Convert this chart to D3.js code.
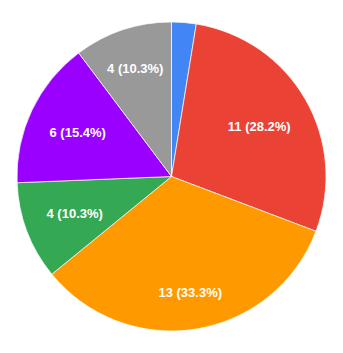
<!DOCTYPE html>
<html>
<head>
<meta charset="utf-8">
<script src="https://cdn.jsdelivr.net/npm/d3@7"></script>
<style>
  body { margin: 0; background: #fff; }
  svg { display: block; }
</style>
</head>
<body>
<div id="chart"></div>
<script>
const categories = ["A", "B", "C", "D", "E", "F"];
const values = [1, 11, 13, 4, 6, 4];
const colors = ["#4285f4", "#ea4335", "#ff9900", "#34a853", "#9900ff", "#999999"];

const width = 343;
const height = 353;
const cx = 171.5;
const cy = 176.5;
const radius = 154.5;
const fontSize = 13;

const total = d3.sum(values);
const data = categories.map((c, i) => ({ name: c, value: values[i], color: colors[i] }));

const svg = d3.select("#chart")
  .append("svg")
  .attr("width", width)
  .attr("height", height);

const pie = d3.pie()
  .sort(null)
  .value(d => d.value);

const arc = d3.arc()
  .innerRadius(0)
  .outerRadius(radius);

const g = svg.append("g")
  .attr("transform", `translate(${cx},${cy})`);

const arcs = pie(data);

g.selectAll("path")
  .data(arcs)
  .enter()
  .append("path")
  .attr("d", arc)
  .attr("fill", d => d.data.color)
  .attr("stroke", "#fff")
  .attr("stroke-width", 0.7);

// labels - small slices get none, like the original
const labels = g.selectAll("text")
  .data(arcs.filter(d => d.data.value / total > 0.05))
  .enter()
  .append("text")
  .attr("text-anchor", "middle")
  .attr("dy", "0.36em")
  .style("font-family", "Arial, 'Liberation Sans', sans-serif")
  .style("font-weight", "bold")
  .style("font-size", fontSize + "px")
  .attr("fill", "#fff")
  .text(d => `${d.data.value} (${d3.format(".1f")(d.data.value / total * 100)}%)`);

// push each label box out along the mid angle until its far corner reaches r0
const r0 = radius * 0.857;
labels.attr("transform", function (d) {
  const mid = (d.startAngle + d.endAngle) / 2;
  const a = Math.abs(Math.sin(mid));
  const b = Math.abs(Math.cos(mid));
  const hw = this.getComputedTextLength() / 2;
  const hh = 7;
  const p = a * hw + b * hh;
  const dist = -p + Math.sqrt(p * p - (hw * hw + hh * hh - r0 * r0));
  return `translate(${dist * Math.sin(mid)},${-dist * Math.cos(mid)})`;
});
</script>
</body>
</html>
